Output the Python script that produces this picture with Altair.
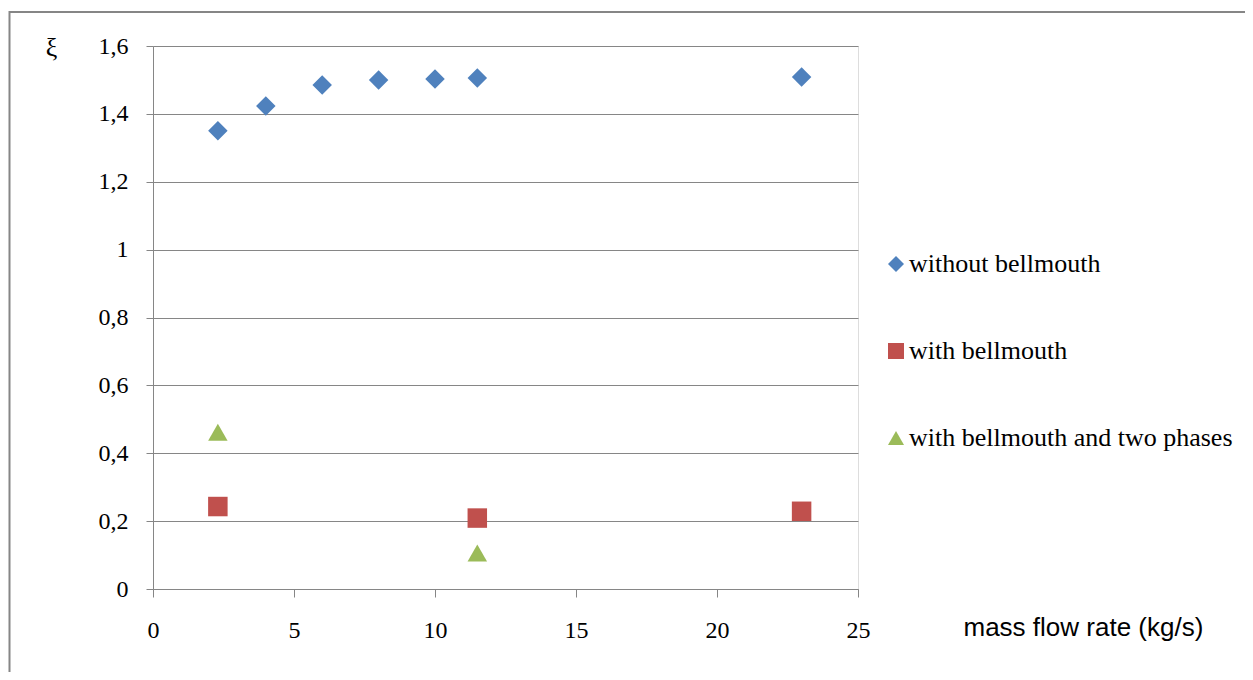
import altair as alt
import pandas as pd

series_names = ["without bellmouth", "with bellmouth", "with bellmouth and two phases"]
colors = ["#4F81BD", "#C0504D", "#9BBB59"]
shapes = ["diamond", "square", "triangle-up"]

x_without = [2.3, 4, 6, 8, 10, 11.5, 23]
y_without = [1.35, 1.423, 1.485, 1.50, 1.503, 1.506, 1.509]
x_with = [2.3, 11.5, 23]
y_with = [0.243, 0.209, 0.229]
x_two = [2.3, 11.5]
y_two = [0.462, 0.106]

rows = []
for xs, ys, name in [(x_without, y_without, series_names[0]),
                     (x_with, y_with, series_names[1]),
                     (x_two, y_two, series_names[2])]:
    for a, b in zip(xs, ys):
        rows.append({"x": a, "y": b, "series": name})
df = pd.DataFrame(rows)

SERIF = "Times New Roman, Liberation Serif, DejaVu Serif, serif"
SANS = "Liberation Sans, Arial, sans-serif"

W, H = 705, 543
PL, PT = 145, 38

points = alt.Chart(df).mark_point(filled=True, opacity=1, size=380).encode(
    x=alt.X("x:Q", scale=alt.Scale(domain=[0, 25], nice=False),
            axis=alt.Axis(values=[0, 5, 10, 15, 20, 25], grid=False,
                          title="mass flow rate (kg/s)",
                          titleFont=SANS, titleFontSize=26,
                          titleFontWeight="normal", titleColor="#000000",
                          titleAnchor="start", titleAlign="left",
                          titleX=810, titleY=38, titleBaseline="middle",
                          labelFont=SERIF, labelFontSize=24, labelFlush=False,
                          labelColor="#000000", tickSize=8, labelPadding=21,
                          domainColor="#868686", tickColor="#868686")),
    y=alt.Y("y:Q", scale=alt.Scale(domain=[0, 1.6], nice=False),
            axis=alt.Axis(values=[0, 0.2, 0.4, 0.6, 0.8, 1, 1.2, 1.4, 1.6],
                          labelExpr="replace(format(datum.value, '.1~f'), '.', ',')",
                          grid=True, gridColor="#868686",
                          title="ξ", titleAngle=0, titleFont=SERIF,
                          titleFontSize=26, titleFontWeight="normal",
                          titleColor="#000000", titleX=-102, titleY=1,
                          titleAlign="center", titleBaseline="middle",
                          labelFont=SERIF, labelFontSize=24, labelFlush=False,
                          labelColor="#000000", tickSize=7, labelPadding=18,
                          domainColor="#868686", tickColor="#868686")),
    color=alt.Color("series:N", scale=alt.Scale(domain=series_names, range=colors),
                    legend=alt.Legend(title=None, orient="none", legendX=730, legendY=205,
                                      labelFont=SERIF, labelFontSize=26,
                                      labelColor="#000000", symbolSize=256,
                                      rowPadding=61, labelOffset=0, padding=0,
                                      symbolStrokeWidth=0, labelLimit=600)),
    shape=alt.Shape("series:N", scale=alt.Scale(domain=series_names, range=shapes)),
)

border = alt.Chart(pd.DataFrame({"a": [0]})).mark_rect(
    fill=None, stroke="#868686", strokeWidth=2
).encode(
    x=alt.value(-143.5), y=alt.value(-34), x2=alt.value(1120), y2=alt.value(700)
)

chart = alt.layer(border, points).properties(
    width=W, height=H,
    autosize=alt.AutoSizeParams(type="none"),
    padding={"left": PL, "top": PT, "right": 1237 - PL - W, "bottom": 664 - PT - H},
).configure_view(stroke=None).configure(background="white").configure_axis(
    labelFont=SERIF
)

chart.save("out.html", embed_options={"renderer": "svg", "actions": False})
